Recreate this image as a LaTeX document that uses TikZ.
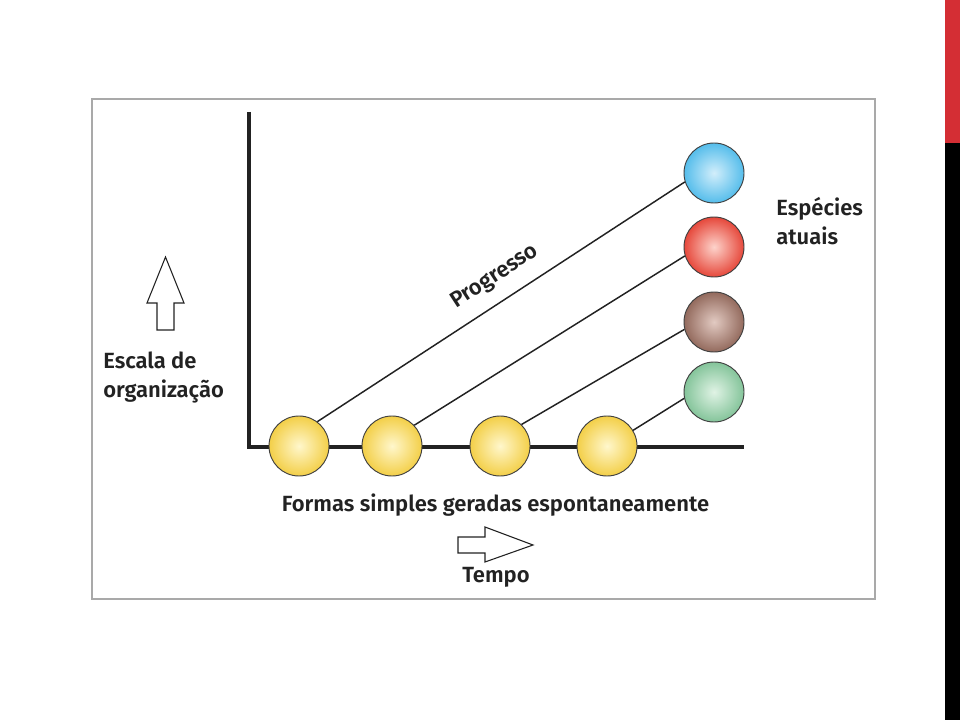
\documentclass[tikz,border=0pt]{standalone}
\usepackage{fontspec}
\setmainfont{Fira Sans}[BoldFont={Fira Sans SemiBold}]
\definecolor{barravermelha}{HTML}{D42E34}
\definecolor{cinzamoldura}{HTML}{A9A9A9}
\definecolor{tinta}{HTML}{222222}
\definecolor{amareloA}{HTML}{FFF7CC}
\definecolor{amareloB}{HTML}{F3CF48}
\definecolor{azulA}{HTML}{D2EEFB}
\definecolor{azulB}{HTML}{55BDEB}
\definecolor{vermelhoA}{HTML}{FDD3CB}
\definecolor{vermelhoB}{HTML}{E6483B}
\definecolor{marromA}{HTML}{E2CAC2}
\definecolor{marromB}{HTML}{936A5D}
\definecolor{verdeA}{HTML}{E0F3E5}
\definecolor{verdeB}{HTML}{84C49A}
\newcommand{\Slide}{
    \fill[white] (0,0) rectangle (960,720);
    \fill[barravermelha] (945,0) rectangle (960,143);
    \fill[black] (945,143) rectangle (960,720);
    \draw[cinzamoldura, line width=1.5pt] (92,99) rectangle (875,599);
}

\begin{document}
\begin{tikzpicture}[x=0.75pt, y=-0.75pt,
    bola/.style={circle, draw=black!75, line width=0.7pt, minimum size=45pt, inner sep=0pt, shading=radial},
    eixo/.style={line width=3pt, tinta, line join=miter},
    ligacao/.style={line width=1.1pt, tinta},
    rotulo/.style={font=\fontsize{16.5}{21.75}\selectfont\bfseries, text=tinta, inner sep=0pt},
    seta/.style={draw=tinta, line width=0.8pt, fill=white, line join=miter}]
        \useasboundingbox (0,0) rectangle (960,720);
        \Slide
        \coordinate (topo) at (249,112);
        \coordinate (origem) at (249,447);
        \coordinate (fim) at (744,447);
        \draw[eixo] (topo) -- (origem) -- (fim);
        \node[bola, inner color=amareloA, outer color=amareloB] (f1) at (299,446) {};
        \node[bola, inner color=amareloA, outer color=amareloB] (f2) at (392,446) {};
        \node[bola, inner color=amareloA, outer color=amareloB] (f3) at (500,446) {};
        \node[bola, inner color=amareloA, outer color=amareloB] (f4) at (607,446) {};
        \node[bola, inner color=azulA, outer color=azulB] (e1) at (714,173) {};
        \node[bola, inner color=vermelhoA, outer color=vermelhoB] (e2) at (714,247) {};
        \node[bola, inner color=marromA, outer color=marromB] (e3) at (714,322) {};
        \node[bola, inner color=verdeA, outer color=verdeB] (e4) at (714,392) {};
        \draw[ligacao] (f1.53) -- (e1.197);
        \draw[ligacao] (f2.43) -- (e2.197);
        \draw[ligacao] (f3.45) -- (e3.194);
        \draw[ligacao] (f4.31) -- (e4.192);
        \node[rotulo, rotate=33.1] (progresso) at (495,277) {Progresso};
        \node[rotulo, anchor=base west, align=left] (especies) at (776,245) {Espécies\\atuais};
        \node[rotulo, anchor=base west, align=left] (escala) at (103,397) {Escala de\\organização};
        \node[rotulo, anchor=base] (formas) at (495.5,511) {Formas simples geradas espontaneamente};
        \node[rotulo, anchor=base] (tempo) at (496,582) {Tempo};
        \draw[seta] (157,330) -- (157,303) -- (147,303) -- (165.5,257) -- (184,303) -- (174,303) -- (174,330) -- cycle;
        \draw[seta] (458,537) -- (485,537) -- (485,527) -- (533,545) -- (485,562) -- (485,553) -- (458,553) -- cycle;
    \end{tikzpicture}
\end{document}
